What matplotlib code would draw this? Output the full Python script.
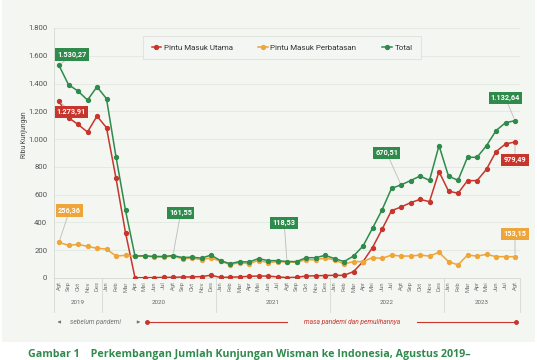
import matplotlib
matplotlib.use('Agg')
import matplotlib.pyplot as plt
import matplotlib.transforms as mtransforms
from matplotlib.lines import Line2D
from matplotlib.patches import Rectangle

plt.rcParams['font.family'] = ['Roboto', 'DejaVu Sans']

# Agustus 2019 - Agustus 2023 (ribu kunjungan)
months = ['Agt', 'Sep', 'Okt', 'Nov', 'Des',
          'Jan', 'Feb', 'Mar', 'Apr', 'Mei', 'Jun', 'Jul', 'Agt', 'Sep', 'Okt', 'Nov', 'Des',
          'Jan', 'Feb', 'Mar', 'Apr', 'Mei', 'Jun', 'Jul', 'Agt', 'Sep', 'Okt', 'Nov', 'Des',
          'Jan', 'Feb', 'Mar', 'Apr', 'Mei', 'Jun', 'Jul', 'Agt', 'Sep', 'Okt', 'Nov', 'Des',
          'Jan', 'Feb', 'Mar', 'Apr', 'Mei', 'Jun', 'Jul', 'Agt']
years = ['2019', '2020', '2021', '2022', '2023']
year_counts = [5, 12, 12, 12, 8]

utama = [1273.91, 1154, 1106, 1051, 1166,
         1082, 718, 326, 2, 2, 3, 4, 5, 7, 8, 10, 20,
         4, 6, 8, 12, 14, 14, 8, 3, 5, 14, 16, 18,
         19, 19, 46, 118, 219, 350, 485, 511, 542, 566, 550, 766,
         626, 610, 701, 701, 783, 910, 965, 979.49]
perbatasan = [256.36, 235, 242, 228, 214,
              209, 158, 163, 156, 158, 152, 151, 156.5, 140, 142, 133, 145,
              121, 97, 110, 103, 126, 111, 117, 115.5, 113, 132, 130, 145,
              130, 101, 118, 118, 147, 141, 165, 158, 158, 165, 158, 185,
              118, 94, 165, 158, 170, 154, 154, 153.15]
total = [1530.27, 1392, 1346, 1281, 1377,
         1291, 873, 487, 158, 160, 155, 155, 161.55, 147, 150, 143, 165,
         125, 103, 118, 115, 140, 125, 125, 118.53, 118, 146, 146, 163,
         140, 118, 158, 230, 358, 490, 645, 670.51, 701, 734, 703, 953,
         734, 703, 869, 869, 953, 1061, 1118, 1132.64]

# (index, value, label position x, label position y, series)
callouts = [
    (0, 1530.27, 1.4, 1610, 'total'),
    (0, 1273.91, 1.3, 1195, 'utama'),
    (0, 256.36, 1.1, 486, 'perbatasan'),
    (12, 161.55, 12.8, 468, 'total'),
    (24, 118.53, 23.7, 396, 'total'),
    (36, 670.51, 34.5, 900, 'total'),
    (48, 1132.64, 47.0, 1296, 'total'),
    (48, 979.49, 48.0, 850, 'utama'),
    (48, 153.15, 48.0, 317, 'perbatasan'),
]

RED = '#c8352c'
ORANGE = '#eea53a'
GREEN = '#2e8b4b'
colors = {'utama': RED, 'perbatasan': ORANGE, 'total': GREEN}


def fmt_id(v):
    s = f'{v:,.2f}'
    return s.replace(',', 'X').replace('.', ',').replace('X', '.')


W, H = 537, 360
fig = plt.figure(figsize=(W / 100, H / 100), dpi=100)
fig.patch.set_facecolor('white')
fig.patches.append(Rectangle((0.004, 1 - 342 / H), 0.992, 342 / H, transform=fig.transFigure,
                             facecolor='#f3f6f1', edgecolor='none', zorder=-10))

ax = fig.add_axes([54.25 / W, 82 / H, 465.5 / W, 250 / H])
ax.patch.set_alpha(0)

x = list(range(len(months)))
ax.plot(x, utama, color=RED, lw=1.1, marker='o', ms=2.8, zorder=3)
ax.plot(x, perbatasan, color=ORANGE, lw=1.1, marker='o', ms=2.8, zorder=3)
ax.plot(x, total, color=GREEN, lw=1.1, marker='o', ms=2.8, zorder=4)

ax.set_xlim(-0.5, len(months) - 0.5)
ax.set_ylim(0, 1800)
ax.set_yticks(range(0, 1801, 200))
ax.set_yticklabels([f'{v:,}'.replace(',', '.') for v in range(0, 1801, 200)])
ax.set_xticks(x)
ax.set_xticklabels(months, rotation=90, fontsize=4.2, color='#777777')
ax.tick_params(axis='y', length=0, labelsize=5.6, labelcolor='#555555', pad=5)
ax.tick_params(axis='x', length=0, pad=2.5)
ax.grid(axis='y', color='#e2e7df', lw=0.6)
ax.set_axisbelow(True)
for side in ['top', 'right']:
    ax.spines[side].set_visible(False)
ax.spines['left'].set_color('#d5d9d3')
ax.spines['bottom'].set_color('#d5d9d3')
ax.spines['left'].set_linewidth(0.6)
ax.spines['bottom'].set_linewidth(0.6)

fig.text(25 / W, 1 - 135 / H, 'Ribu Kunjungan', rotation=90, fontsize=4.8,
         color='#444444', ha='center', va='center')

# year groups under the month labels
trans = mtransforms.blended_transform_factory(ax.transData, ax.transAxes)
start = -0.5
bounds = [start]
for yr, n in zip(years, year_counts):
    ax.text(start + n / 2, -0.1, yr, transform=trans, fontsize=4.4, color='#666666',
            ha='center', va='center')
    start += n
    bounds.append(start)
for b in bounds:
    ax.add_line(Line2D([b, b], [0, -0.136], transform=trans, color='#d5d9d3', lw=0.6,
                       clip_on=False))

# callout labels
for i, v, tx, ty, s in callouts:
    ax.annotate(fmt_id(v), xy=(i, v), xytext=(tx, ty), fontsize=5.3, fontweight='bold',
                color='white', ha='center', va='center', zorder=6,
                bbox=dict(boxstyle='square,pad=0.3', fc=colors[s], ec='none'),
                arrowprops=dict(arrowstyle='-', color='#bcbcbc', lw=0.6, shrinkA=0, shrinkB=2))

# pandemic period row
yrow = -0.176
ax.annotate('', xy=(-0.45, yrow), xytext=(0.45, yrow), xycoords=trans, textcoords=trans,
            arrowprops=dict(arrowstyle='-|>', color='#777777', lw=0.6, mutation_scale=4))
ax.text(3.8, yrow, 'sebelum pandemi', transform=trans, fontsize=4.8, style='italic',
        color='#777777', ha='center', va='center')
ax.annotate('', xy=(8.85, yrow), xytext=(8.0, yrow), xycoords=trans, textcoords=trans,
            arrowprops=dict(arrowstyle='-|>', color='#777777', lw=0.6, mutation_scale=4))
ax.add_line(Line2D([9.26, 24.0], [yrow, yrow], transform=trans, color=RED, lw=0.8,
                   clip_on=False))
ax.add_line(Line2D([37.7, 48.1], [yrow, yrow], transform=trans, color=RED, lw=0.8,
                   clip_on=False))
ax.add_line(Line2D([9.26, 48.1], [yrow, yrow], transform=trans, color=RED, lw=0,
                   marker='o', ms=2.5, markevery=[0, 1], clip_on=False))
ax.text(30.85, yrow, 'masa pandemi dan pemulihannya', transform=trans, fontsize=4.8,
        style='italic', color=RED, ha='center', va='center')

handles = [Line2D([], [], color=RED, lw=1.1, marker='o', ms=2.8),
           Line2D([], [], color=ORANGE, lw=1.1, marker='o', ms=2.8),
           Line2D([], [], color=GREEN, lw=1.1, marker='o', ms=2.8)]
leg = fig.legend(handles, ['Pintu Masuk Utama', 'Pintu Masuk Perbatasan', 'Total'],
                 loc='center', bbox_to_anchor=(282 / W, 1 - 47.5 / H), ncol=3, fontsize=5.8,
                 frameon=True, fancybox=False, edgecolor='#dcdfda', facecolor='#f5f7f4',
                 handlelength=1.2, handletextpad=0.3, columnspacing=3.2, borderpad=1.0)
leg.get_frame().set_linewidth(0.8)
for t in leg.get_texts():
    t.set_color('#333333')

fig.text(28 / W, 3.2 / H, 'Gambar 1    Perkembangan Jumlah Kunjungan Wisman ke Indonesia, Agustus 2019\u2013',
         fontsize=7.7, fontweight='bold', color='#2e8b4b', family='Open Sans',
         ha='left', va='baseline')

fig.savefig('out.png', dpi=100)
